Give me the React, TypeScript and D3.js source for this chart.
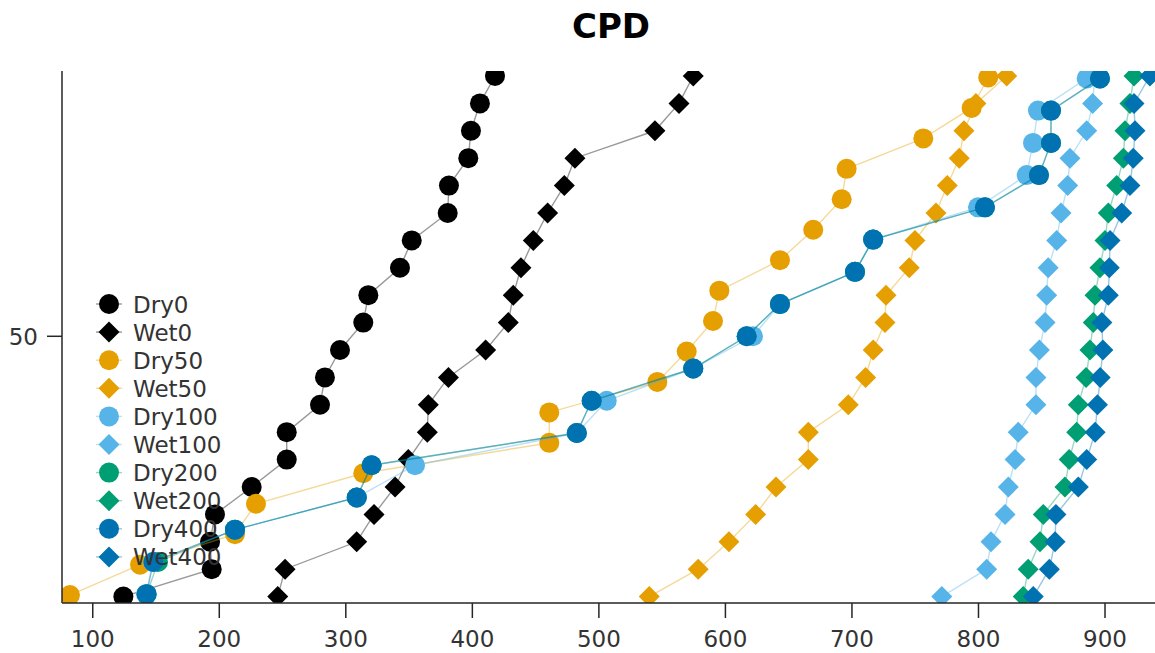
import React from "react";
import * as d3 from "d3";

// Cumulative percentage positions for samples of size 17, 18 and 20
const pct17 = [2.94, 8.82, 14.71, 20.59, 26.47, 32.35, 38.24, 44.12, 50, 55.88, 61.76, 67.65, 73.53, 79.41, 85.29, 91.18, 97.06];
const pct18 = [2.78, 8.33, 13.89, 19.44, 25, 30.56, 36.11, 41.67, 47.22, 52.78, 58.33, 63.89, 69.44, 75, 80.56, 86.11, 91.67, 97.22];
const pct20 = [2.5, 7.5, 12.5, 17.5, 22.5, 27.5, 32.5, 37.5, 42.5, 47.5, 52.5, 57.5, 62.5, 67.5, 72.5, 77.5, 82.5, 87.5, 92.5, 97.5];

// Sorted CPD values per treatment
const dry0 = [124.2, 194, 192.7, 196.6, 225.6, 253.3, 253.3, 279.6, 283.5, 295.4, 313.8, 317.8, 342.8, 352.1, 380.5, 381.5, 396.8, 398.9, 406, 417.9];
const wet0 = [246.2, 252, 308.6, 322.3, 338.9, 349.4, 364.4, 365.2, 381.1, 410.5, 428.4, 432.3, 438.4, 448.2, 459.5, 472.7, 481.1, 544.3, 563.3, 574.6];
const dry50 = [82, 137.4, 212.4, 229, 313.8, 460.8, 460.8, 546.2, 569.4, 590.2, 595.2, 643.1, 669.4, 691.9, 695.8, 756.4, 794.6, 807.7];
const wet50 = [539.8, 578.5, 602.8, 623.9, 640, 665.5, 665.5, 697.1, 710.8, 716.8, 726.1, 726.9, 745.3, 749.8, 766.4, 775.3, 784.8, 788.5, 798, 822.3];
const dry100 = [142.1, 147.6, 212.4, 308.8, 354.7, 482.7, 506.2, 574.4, 621.8, 643.1, 702.4, 716.6, 799.6, 838.1, 843.1, 847, 885.5];
const wet100 = [771, 806.5, 809.9, 821, 823.6, 828.9, 831.4, 845.4, 845.4, 848.1, 852.6, 853.9, 855.1, 861.8, 865.2, 870.5, 872.3, 885.5, 890.2, 892];
const dry200 = [142.6, 151.6, 212.4, 308.6, 320.4, 482.5, 494.3, 574.6, 616.8, 643.1, 702.4, 716.8, 805.1, 847.8, 857.3, 857.3, 896];
const wet200 = [835.4, 839.3, 848.6, 851.2, 868.3, 871.7, 877.6, 878.9, 885, 888.1, 890.7, 892.1, 896, 900, 902.6, 909.2, 914.5, 915.8, 919.7, 922.9];
const dry400 = [142.6, 147.9, 212.4, 308.6, 320.4, 482.5, 494.3, 574.6, 616.8, 643.1, 702.4, 716.8, 805.1, 847.8, 857.3, 857.3, 896];
const wet400 = [843.3, 856, 860.5, 861.2, 878.9, 885.5, 892.2, 894, 896.2, 898.3, 897.5, 902.6, 903.4, 904, 913.2, 919.7, 922.3, 923.7, 922.9, 935.5];

const seriesNames = ["Dry0", "Wet0", "Dry50", "Wet50", "Dry100", "Wet100", "Dry200", "Wet200", "Dry400", "Wet400"];
const seriesValues = [dry0, wet0, dry50, wet50, dry100, wet100, dry200, wet200, dry400, wet400];
const seriesPct = [pct20, pct20, pct18, pct20, pct17, pct20, pct17, pct20, pct17, pct20];
const seriesShape = ["circle", "diamond", "circle", "diamond", "circle", "diamond", "circle", "diamond", "circle", "diamond"];
const seriesColor = ["#000000", "#000000", "#E69F00", "#E69F00", "#56B4E9", "#56B4E9", "#009E73", "#009E73", "#0072B2", "#0072B2"];

const xTicks = [100, 200, 300, 400, 500, 600, 700, 800, 900];
const yTicks = [50];

const W = 1155;
const H = 653;
const left = 62;
const top = 71;
const bottom = 603;
const right = 1155;

const x = d3.scaleLinear().domain([75.7, 939.5]).range([left, right]);
const y = d3.scaleLinear().domain([1.33, 98.41]).range([bottom, top]);

const R = 10;
const D = 10.5;
const diamondPath = `M0,${-D}L${D},0L0,${D}L${-D},0Z`;
const font = "'DejaVu Sans', sans-serif";
const textColor = "#333333";

function Marker({ shape, cx, cy, color }: { shape: string; cx: number; cy: number; color: string }) {
  if (shape === "circle") return <circle cx={cx} cy={cy} r={R} fill={color} />;
  return <path d={diamondPath} transform={`translate(${cx},${cy})`} fill={color} />;
}

export default function App() {
  const line = d3
    .line<[number, number]>()
    .x((d) => x(d[0]))
    .y((d) => y(d[1]));

  return (
    <svg
      width={W}
      height={H}
      style={{ position: "fixed", left: 0, top: 0, background: "#fff" }}
      fontFamily={font}
    >
      <defs>
        <clipPath id="plot-area">
          <rect x={left} y={top} width={right - left + 40} height={bottom - top} />
        </clipPath>
      </defs>

      <text x={611} y={38} textAnchor="middle" fontSize={34} fontWeight="bold" fill="#000">
        CPD
      </text>

      <g clipPath="url(#plot-area)">
        {seriesValues.map((vals, si) => {
          const pts: [number, number][] = vals.map((v, i) => [v, seriesPct[si][i]]);
          return (
            <g key={seriesNames[si]}>
              <path d={line(pts) || ""} fill="none" stroke={seriesColor[si]} strokeOpacity={0.4} strokeWidth={1.4} />
              {pts.map((p, i) => (
                <Marker key={i} shape={seriesShape[si]} cx={x(p[0])} cy={y(p[1])} color={seriesColor[si]} />
              ))}
            </g>
          );
        })}
      </g>

      {/* axes */}
      <line x1={left} x2={left} y1={top} y2={bottom} stroke="#262626" strokeWidth={1.5} />
      <line x1={left} x2={right} y1={bottom} y2={bottom} stroke="#262626" strokeWidth={1.5} />
      {xTicks.map((t) => (
        <g key={t}>
          <line x1={x(t)} x2={x(t)} y1={bottom} y2={bottom + 15} stroke="#262626" strokeWidth={1.5} />
          <text x={x(t)} y={647} textAnchor="middle" fontSize={23} fill={textColor}>
            {t}
          </text>
        </g>
      ))}
      {yTicks.map((t) => (
        <g key={t}>
          <line x1={left - 15} x2={left} y1={y(t)} y2={y(t)} stroke="#262626" strokeWidth={1.5} />
          <text x={38} y={y(t) + 8.5} textAnchor="end" fontSize={23} fill={textColor}>
            {t}
          </text>
        </g>
      ))}

      {/* legend */}
      {seriesNames.map((name, i) => {
        const ly = 304 + i * 28.1;
        return (
          <g key={name}>
            <line x1={96} x2={122} y1={ly} y2={ly} stroke={seriesColor[i]} strokeOpacity={0.4} strokeWidth={1.4} />
            <Marker shape={seriesShape[i]} cx={109} cy={ly} color={seriesColor[i]} />
            <text x={133} y={ly + 8.5} fontSize={23} fill={textColor}>
              {name}
            </text>
          </g>
        );
      })}
    </svg>
  );
}
